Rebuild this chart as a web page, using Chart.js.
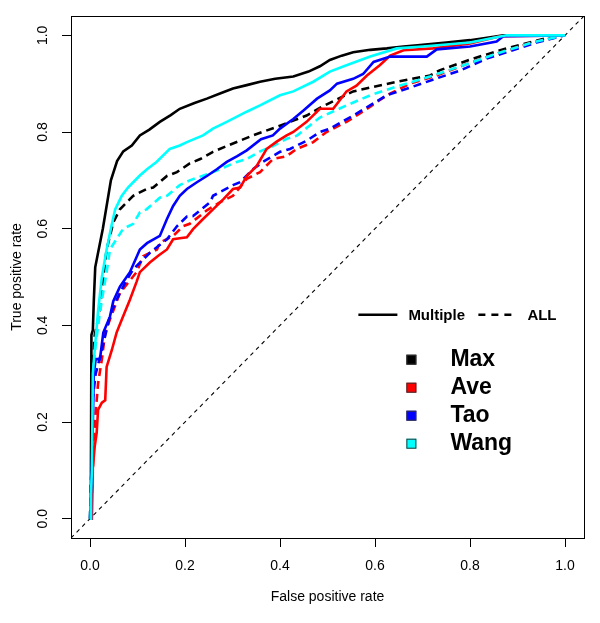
<!DOCTYPE html>
<html>
<head>
<meta charset="utf-8">
<script src="https://cdn.jsdelivr.net/npm/chart.js@4.4.1/dist/chart.umd.min.js"></script>
<style>
  html, body { margin: 0; padding: 0; background: #fff; }
  #wrap { width: 600px; height: 623px; }
</style>
</head>
<body>
<div id="wrap"><canvas id="c" width="600" height="623"></canvas></div>
<script>
// ---- tick labels ----
const xTickValues = [0, 0.2, 0.4, 0.6, 0.8, 1.0];
const yTickValues = [0, 0.2, 0.4, 0.6, 0.8, 1.0];

// ---- series names / colors ----
const methodNames = ["Max", "Ave", "Tao", "Wang"];
const methodColors = ["#000000", "#ff0000", "#0000ff", "#00ffff"];

// ---- Max, Multiple (solid) ----
const maxMultFpr = [0, 0.002, 0.003, 0.006, 0.008, 0.011, 0.017, 0.027, 0.044, 0.057, 0.07, 0.088, 0.105, 0.125, 0.147, 0.17, 0.189, 0.22, 0.246, 0.275, 0.301, 0.33, 0.358, 0.39, 0.428, 0.46, 0.484, 0.505, 0.53, 0.554, 0.59, 0.625, 0.66, 0.695, 0.75, 0.8, 0.85, 0.87, 1.0];
const maxMultTpr = [0, 0.1, 0.38, 0.39, 0.45, 0.52, 0.55, 0.6, 0.7, 0.74, 0.76, 0.772, 0.793, 0.805, 0.821, 0.835, 0.848, 0.86, 0.869, 0.88, 0.89, 0.897, 0.904, 0.91, 0.915, 0.925, 0.936, 0.949, 0.958, 0.965, 0.97, 0.973, 0.977, 0.98, 0.985, 0.99, 0.997, 1.0, 1.0];

// ---- Ave, Multiple (solid) ----
const aveMultFpr = [0, 0.004, 0.006, 0.01, 0.014, 0.017, 0.025, 0.032, 0.035, 0.046, 0.056, 0.067, 0.084, 0.098, 0.105, 0.126, 0.145, 0.162, 0.175, 0.189, 0.204, 0.217, 0.238, 0.259, 0.281, 0.301, 0.316, 0.33, 0.351, 0.372, 0.393, 0.414, 0.428, 0.456, 0.484, 0.512, 0.54, 0.561, 0.583, 0.61, 0.632, 0.66, 0.722, 0.8, 0.863, 1.0];
const aveMultTpr = [0, 0, 0.106, 0.15, 0.177, 0.225, 0.24, 0.245, 0.314, 0.349, 0.385, 0.412, 0.453, 0.49, 0.51, 0.53, 0.545, 0.557, 0.578, 0.58, 0.582, 0.599, 0.62, 0.64, 0.661, 0.682, 0.685, 0.709, 0.73, 0.765, 0.78, 0.793, 0.8, 0.821, 0.848, 0.848, 0.884, 0.896, 0.917, 0.938, 0.958, 0.969, 0.973, 0.983, 0.998, 1.0];

// ---- Tao, Multiple (solid) ----
const taoMultFpr = [0, 0.002, 0.004, 0.006, 0.008, 0.012, 0.021, 0.028, 0.042, 0.049, 0.063, 0.084, 0.105, 0.12, 0.147, 0.162, 0.175, 0.189, 0.204, 0.225, 0.246, 0.267, 0.288, 0.31, 0.33, 0.36, 0.385, 0.4, 0.428, 0.45, 0.478, 0.505, 0.52, 0.554, 0.575, 0.597, 0.632, 0.709, 0.73, 0.8, 0.856, 0.87, 1.0];
const taoMultTpr = [0, 0.05, 0.1, 0.2, 0.3, 0.33, 0.33, 0.385, 0.418, 0.45, 0.48, 0.51, 0.557, 0.57, 0.585, 0.62, 0.647, 0.668, 0.682, 0.696, 0.709, 0.723, 0.738, 0.75, 0.762, 0.785, 0.793, 0.807, 0.827, 0.845, 0.869, 0.886, 0.9, 0.91, 0.92, 0.945, 0.956, 0.956, 0.971, 0.977, 0.987, 0.998, 1.0];

// ---- Wang, Multiple (solid) ----
const wangMultFpr = [0, 0.002, 0.004, 0.006, 0.01, 0.017, 0.025, 0.035, 0.045, 0.053, 0.067, 0.08, 0.091, 0.105, 0.12, 0.14, 0.168, 0.189, 0.204, 0.238, 0.259, 0.288, 0.33, 0.358, 0.4, 0.428, 0.47, 0.505, 0.54, 0.59, 0.646, 0.7, 0.8, 0.877, 1.0];
const wangMultTpr = [0, 0.05, 0.1, 0.3, 0.35, 0.43, 0.5, 0.557, 0.605, 0.64, 0.668, 0.685, 0.696, 0.71, 0.723, 0.738, 0.765, 0.772, 0.779, 0.793, 0.807, 0.821, 0.842, 0.855, 0.876, 0.884, 0.904, 0.925, 0.938, 0.956, 0.973, 0.977, 0.985, 1.0, 1.0];

// ---- Max, ALL (dashed) ----
const maxAllFpr = [0, 0.003, 0.005, 0.01, 0.021, 0.028, 0.035, 0.049, 0.063, 0.084, 0.091, 0.119, 0.133, 0.162, 0.183, 0.21, 0.232, 0.259, 0.288, 0.343, 0.4, 0.456, 0.484, 0.554, 0.646, 0.716, 0.737, 0.807, 0.877, 0.933, 0.975, 1.0];
const maxAllTpr = [0, 0.1, 0.3, 0.38, 0.432, 0.5, 0.557, 0.613, 0.64, 0.661, 0.668, 0.682, 0.685, 0.709, 0.717, 0.735, 0.744, 0.759, 0.771, 0.793, 0.813, 0.834, 0.85, 0.884, 0.904, 0.917, 0.928, 0.952, 0.973, 0.987, 0.998, 1.0];

// ---- Ave, ALL (dashed) ----
const aveAllFpr = [0, 0.004, 0.008, 0.012, 0.017, 0.025, 0.032, 0.042, 0.063, 0.098, 0.112, 0.141, 0.147, 0.175, 0.196, 0.21, 0.246, 0.274, 0.301, 0.33, 0.358, 0.385, 0.414, 0.435, 0.47, 0.498, 0.54, 0.583, 0.625, 0.674, 0.73, 0.786, 0.85, 0.93, 1.0];
const aveAllTpr = [0, 0.05, 0.15, 0.22, 0.28, 0.33, 0.385, 0.412, 0.467, 0.51, 0.543, 0.557, 0.571, 0.585, 0.605, 0.61, 0.638, 0.655, 0.668, 0.703, 0.717, 0.744, 0.75, 0.765, 0.779, 0.8, 0.821, 0.848, 0.876, 0.9, 0.917, 0.938, 0.96, 0.985, 1.0];

// ---- Tao, ALL (dashed) ----
const taoAllFpr = [0, 0.003, 0.006, 0.012, 0.02, 0.03, 0.042, 0.056, 0.075, 0.091, 0.126, 0.162, 0.183, 0.204, 0.217, 0.253, 0.259, 0.301, 0.316, 0.343, 0.364, 0.4, 0.421, 0.456, 0.484, 0.505, 0.554, 0.625, 0.68, 0.73, 0.779, 0.835, 0.87, 0.94, 1.0];
const taoAllTpr = [0, 0.1, 0.25, 0.3, 0.33, 0.37, 0.42, 0.453, 0.49, 0.516, 0.55, 0.578, 0.605, 0.625, 0.626, 0.655, 0.668, 0.69, 0.696, 0.723, 0.738, 0.759, 0.765, 0.782, 0.8, 0.807, 0.834, 0.876, 0.894, 0.911, 0.927, 0.952, 0.963, 0.985, 1.0];

// ---- Wang, ALL (dashed) ----
const wangAllFpr = [0, 0.003, 0.006, 0.012, 0.02, 0.028, 0.035, 0.042, 0.07, 0.091, 0.105, 0.119, 0.147, 0.162, 0.189, 0.21, 0.259, 0.309, 0.33, 0.358, 0.385, 0.414, 0.435, 0.484, 0.54, 0.59, 0.646, 0.716, 0.786, 0.85, 0.93, 1.0];
const wangAllTpr = [0, 0.1, 0.3, 0.36, 0.42, 0.47, 0.51, 0.557, 0.6, 0.61, 0.634, 0.64, 0.664, 0.668, 0.69, 0.7, 0.717, 0.738, 0.744, 0.76, 0.771, 0.786, 0.792, 0.83, 0.855, 0.876, 0.894, 0.915, 0.938, 0.96, 0.985, 1.0];

// ---- chance diagonal (abline 0,1 across the plot region) ----
const diagX = [-0.04, 1.04];
const diagY = [-0.04, 1.04];

const FONT = "'Liberation Sans', Arial, Helvetica, sans-serif";

function pts(xs, ys) { return xs.map((x, i) => ({ x: x, y: ys[i] })); }

function ds(label, xs, ys, color, dashed, order) {
  return {
    label: label,
    data: pts(xs, ys),
    borderColor: color,
    backgroundColor: color,
    borderWidth: 2.6,
    borderDash: dashed ? [8, 5] : [],
    pointRadius: 0,
    tension: 0,
    fill: false,
    showLine: true,
    order: order
  };
}

const datasets = [
  ds("Wang Multiple", wangMultFpr, wangMultTpr, methodColors[3], false, 1),
  ds("Tao Multiple", taoMultFpr, taoMultTpr, methodColors[2], false, 2),
  ds("Ave Multiple", aveMultFpr, aveMultTpr, methodColors[1], false, 3),
  ds("Max Multiple", maxMultFpr, maxMultTpr, methodColors[0], false, 4),
  ds("Wang ALL", wangAllFpr, wangAllTpr, methodColors[3], true, 5),
  ds("Tao ALL", taoAllFpr, taoAllTpr, methodColors[2], true, 6),
  ds("Ave ALL", aveAllFpr, aveAllTpr, methodColors[1], true, 7),
  ds("Max ALL", maxAllFpr, maxAllTpr, methodColors[0], true, 8),
  {
    label: "diag",
    data: pts(diagX, diagY),
    borderColor: "#000",
    borderWidth: 1.1,
    borderDash: [4, 4],
    pointRadius: 0,
    showLine: true,
    fill: false,
    order: 9
  }
];

const framePlugin = {
  id: "frame",
  afterDraw(chart) {
    const { ctx, chartArea: a, scales } = chart;
    ctx.save();
    ctx.strokeStyle = "#000";
    ctx.lineWidth = 1;
    ctx.setLineDash([]);
    ctx.strokeRect(Math.round(a.left) + 0.5, Math.round(a.top) + 0.5,
                   Math.round(a.right - a.left), Math.round(a.bottom - a.top));

    // rotated y tick labels (R style, parallel to axis)
    const ys = scales.y;
    ctx.fillStyle = "#000";
    ctx.font = "14px " + FONT;
    ctx.textAlign = "center";
    ctx.textBaseline = "middle";
    yTickValues.forEach(v => {
      const py = ys.getPixelForValue(v);
      ctx.save();
      ctx.translate(a.left - 28, py);
      ctx.rotate(-Math.PI / 2);
      ctx.fillText(v.toFixed(1), 0, 0);
      ctx.restore();
    });

    // legend anchored in data space
    const xs = scales.x;
    const lx = xs.getPixelForValue(0.565);
    const ly = ys.getPixelForValue(0.422);
    ctx.lineWidth = 2.6;
    ctx.strokeStyle = "#000";
    ctx.beginPath();
    ctx.moveTo(lx, ly); ctx.lineTo(lx + 39, ly); ctx.stroke();
    ctx.font = "bold 15px " + FONT;
    ctx.textAlign = "left";
    ctx.textBaseline = "alphabetic";
    ctx.fillText("Multiple", lx + 50, ly + 5);
    ctx.setLineDash([7, 6]);
    ctx.beginPath();
    ctx.moveTo(lx + 120, ly); ctx.lineTo(lx + 159, ly); ctx.stroke();
    ctx.setLineDash([]);
    ctx.fillText("ALL", lx + 169, ly + 5);

    ctx.font = "bold 23px " + FONT;
    methodNames.forEach((name, i) => {
      const cy = ly + 45 + i * 28;
      ctx.fillStyle = methodColors[i];
      ctx.fillRect(lx + 48, cy - 5, 10, 10);
      ctx.strokeStyle = "#333";
      ctx.lineWidth = 1;
      ctx.strokeRect(lx + 48.5, cy - 4.5, 9, 9);
      ctx.fillStyle = "#000";
      ctx.fillText(name, lx + 92, cy + 6);
    });
    ctx.restore();
  }
};

new Chart(document.getElementById("c"), {
  type: "scatter",
  data: { datasets: datasets },
  options: {
    responsive: false,
    animation: false,
    devicePixelRatio: 1,
    layout: { padding: { top: 16, right: 16, left: 0, bottom: 0 } },
    plugins: { legend: { display: false }, tooltip: { enabled: false } },
    elements: { line: { tension: 0 } },
    scales: {
      x: {
        type: "linear",
        min: -0.04,
        max: 1.04,
        afterBuildTicks(scale) { scale.ticks = xTickValues.map(v => ({ value: v })); },
        afterFit(scale) { scale.height = 85; },
        ticks: {
          callback: v => Number(v).toFixed(1),
          font: { size: 14, family: FONT },
          color: "#000",
          padding: 11,
          maxRotation: 0,
          autoSkip: false
        },
        grid: { drawOnChartArea: false, drawTicks: true, tickLength: 9, tickColor: "#000", color: "#000" },
        border: { display: false },
        title: {
          display: true,
          text: "False positive rate",
          font: { size: 14, family: FONT },
          color: "#000",
          padding: { top: 0, bottom: 17 }
        }
      },
      y: {
        type: "linear",
        min: -0.04,
        max: 1.04,
        afterBuildTicks(scale) { scale.ticks = yTickValues.map(v => ({ value: v })); },
        afterFit(scale) { scale.width = 71; },
        ticks: {
          callback: v => Number(v).toFixed(1),
          font: { size: 14, family: FONT },
          color: "rgba(0,0,0,0)",
          autoSkip: false
        },
        grid: { drawOnChartArea: false, drawTicks: true, tickLength: 9, tickColor: "#000", color: "#000" },
        border: { display: false },
        title: {
          display: true,
          text: "True positive rate",
          font: { size: 14, family: FONT },
          color: "#000",
          padding: { top: 9, bottom: 0 }
        }
      }
    }
  },
  plugins: [framePlugin]
});
</script>
</body>
</html>
